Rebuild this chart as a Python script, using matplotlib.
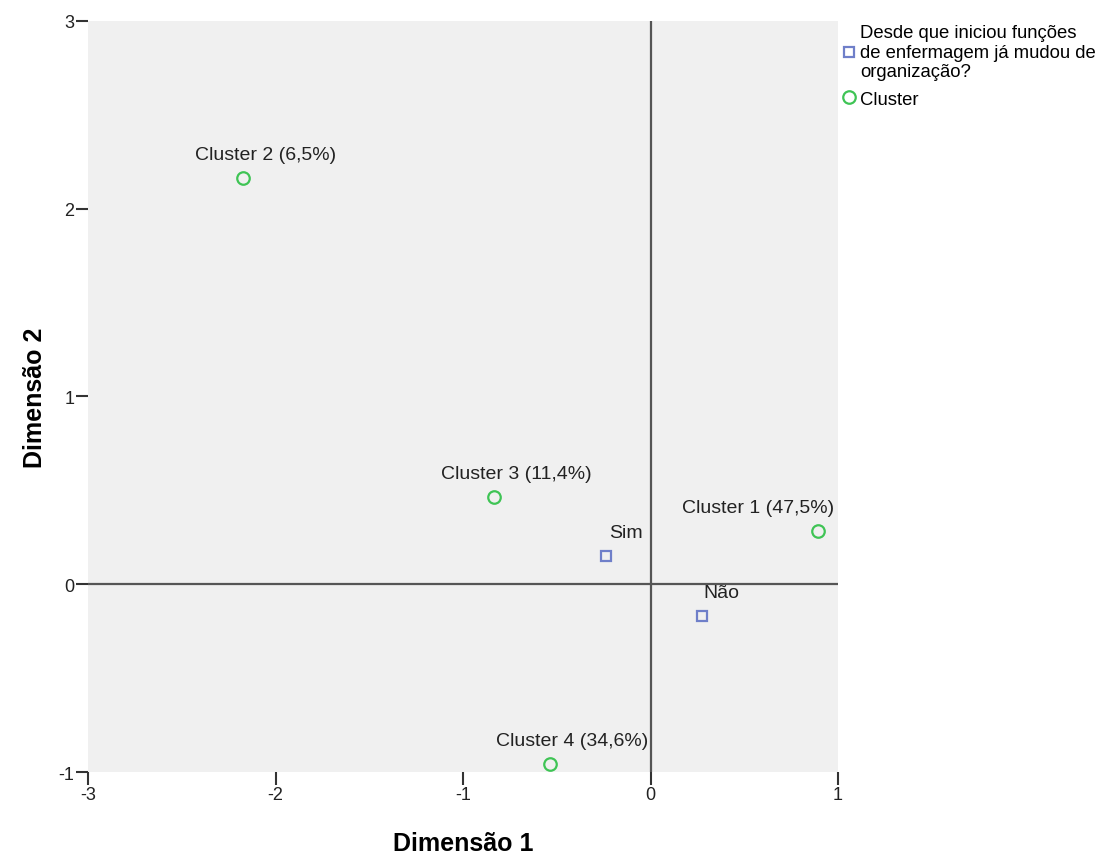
import matplotlib.pyplot as plt

plt.rcParams["font.family"] = ["Liberation Sans", "DejaVu Sans"]
plt.rcParams["axes.unicode_minus"] = False

# Category points (Desde que iniciou funções de enfermagem já mudou de organização?)
cat_labels = ["Sim", "Não"]
cat_x = [-0.237, 0.275]
cat_y = [0.150, -0.169]

# Cluster points
cluster_labels = ["Cluster 1 (47,5%)", "Cluster 2 (6,5%)", "Cluster 3 (11,4%)", "Cluster 4 (34,6%)"]
cluster_x = [0.893, -2.173, -0.835, -0.536]
cluster_y = [0.284, 2.164, 0.465, -0.957]

blue = "#6f7fc9"
green = "#3fc455"

fig = plt.figure(figsize=(11.16, 8.54), dpi=100)
ax = fig.add_axes([0.0789, 0.0948, 0.6720, 0.8795])
ax.set_facecolor("#f0f0f0")

ax.axvline(0, color="#555555", lw=1.6, zorder=1)
ax.axhline(0, color="#555555", lw=1.6, zorder=1)

ax.plot(cat_x, cat_y, ls="none", marker="s", ms=6.5, mfc="none", mec=blue, mew=1.6,
        label="Desde que iniciou funções\nde enfermagem já mudou de\norganização?", zorder=3)
ax.plot(cluster_x, cluster_y, ls="none", marker="o", ms=9, mfc="none", mec=green, mew=1.6,
        label="Cluster", zorder=3)

for lab, x, y in zip(cat_labels, cat_x, cat_y):
    ax.annotate(lab, (x, y), xytext=(14, 11), textcoords="offset points",
                ha="center", va="bottom", fontsize=14, color="#222222")
for lab, x, y in zip(cluster_labels, cluster_x, cluster_y):
    dx = 16
    if x > 0.5:
        dx = -43
    ax.annotate(lab, (x, y), xytext=(dx, 11), textcoords="offset points",
                ha="center", va="bottom", fontsize=14, color="#222222")

ax.set_xlim(-3, 1)
ax.set_ylim(-1, 3)
ax.set_xticks([-3, -2, -1, 0, 1])
ax.set_yticks([-1, 0, 1, 2, 3])
for s in ax.spines.values():
    s.set_visible(False)
ax.tick_params(direction="out", length=9, width=1.5, color="#333333",
               labelsize=13, labelcolor="#222222", pad=1)

ax.set_xlabel("Dimensão 1", fontsize=18, fontweight="bold", labelpad=20)
ax.set_ylabel("Dimensão 2", fontsize=18, fontweight="bold", labelpad=8)

ax.legend(loc="upper left", bbox_to_anchor=(0.995, 1.008), frameon=False, fontsize=13.3,
          handlelength=0.6, handletextpad=0.3, labelspacing=0.55, borderaxespad=0.3,
          borderpad=0.2)

fig.savefig("out.png", dpi=100, facecolor="white")
